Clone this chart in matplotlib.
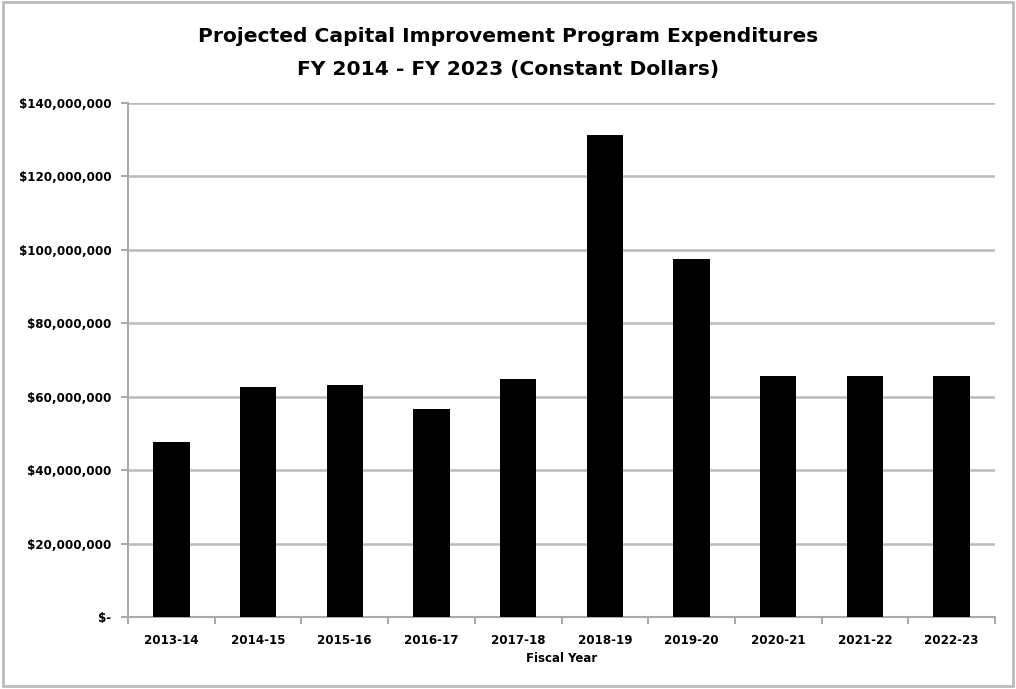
import matplotlib
matplotlib.use("Agg")
import matplotlib.pyplot as plt
from matplotlib.ticker import FuncFormatter, MultipleLocator, FixedLocator
from matplotlib.patches import Rectangle

# Fiscal years and projected expenditures (constant dollars)
years = ["2013-14", "2014-15", "2015-16", "2016-17", "2017-18",
         "2018-19", "2019-20", "2020-21", "2021-22", "2022-23"]
spend = [47.7e6, 62.7e6, 63.2e6, 56.7e6, 64.8e6,
         131.3e6, 97.5e6, 65.6e6, 65.6e6, 65.6e6]

plt.rcParams['font.family'] = ['DejaVu Sans']

fig = plt.figure(figsize=(10.16, 6.89), dpi=100)
ax = fig.add_axes([128/1016, 1 - 617/689, (995-128)/1016, (617-103)/689])

x = range(len(years))
ax.bar(x, spend, width=0.42, color="black", zorder=3)

ax.set_xlim(-0.5, len(years) - 0.5)
ax.set_ylim(0, 140e6)
ax.yaxis.set_major_locator(MultipleLocator(20e6))

def money(v, pos):
    if v == 0:
        return "$-"
    return "${:,.0f}".format(v)

ax.yaxis.set_major_formatter(FuncFormatter(money))
ax.set_xticks(list(x))
ax.set_xticklabels(years)
ax.xaxis.set_minor_locator(FixedLocator([i - 0.5 for i in range(len(years) + 1)]))
ax.tick_params(axis="x", which="major", length=0, pad=12)
ax.tick_params(axis="x", which="minor", length=5, color="#aaaaaa", width=1.5)
ax.tick_params(axis="y", length=5, color="#aaaaaa", width=1.5, pad=7)
for lab in ax.get_xticklabels() + ax.get_yticklabels():
    lab.set_fontweight("bold")
    lab.set_fontsize(8.6)

ax.grid(axis="y", color="#bbbbbb", linewidth=1.8, zorder=0)
for s in ["top", "right"]:
    ax.spines[s].set_visible(False)
for s in ["left", "bottom"]:
    ax.spines[s].set_color("#aaaaaa")
    ax.spines[s].set_linewidth(1.5)

ax.set_xlabel("Fiscal Year", fontsize=8.5, fontweight="bold", labelpad=4)
fig.text(0.5, 1 - 37/689, "Projected Capital Improvement Program Expenditures",
         ha="center", va="center", fontsize=14.6, fontweight="bold")
fig.text(0.5, 1 - 70/689, "FY 2014 - FY 2023 (Constant Dollars)",
         ha="center", va="center", fontsize=14.6, fontweight="bold")

# thin frame around the whole chart
fig.patches.append(Rectangle((0.003, 0.004), 0.994, 0.993, transform=fig.transFigure,
                             fill=False, edgecolor="#bbbbbb", linewidth=2))

fig.savefig("out.png", dpi=100)
